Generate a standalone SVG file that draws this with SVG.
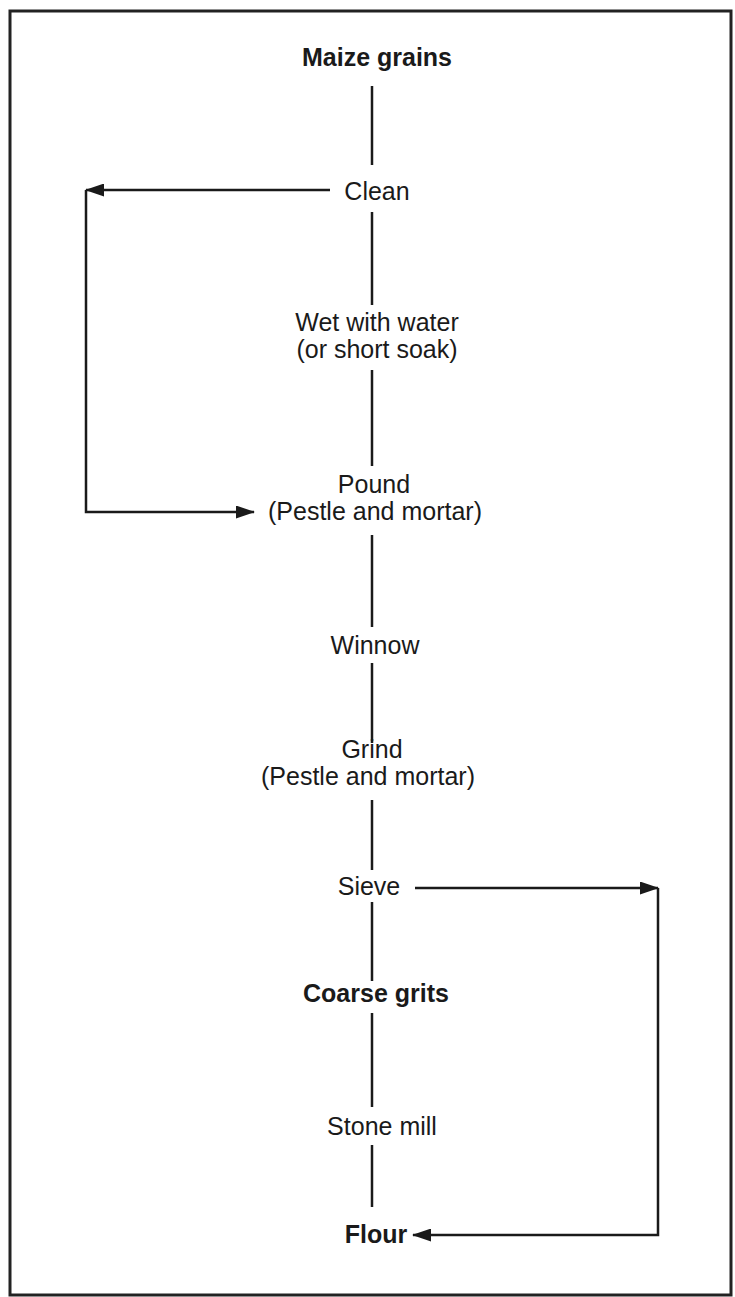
<svg xmlns="http://www.w3.org/2000/svg" width="735" height="1297" viewBox="0 0 735 1297">
<style>
.t{font-family:"Liberation Sans",Arial,sans-serif;font-size:25px;fill:#1a1a1a;text-anchor:middle}
.b{font-weight:bold}
.ln{stroke:#1a1a1a;stroke-width:2.5;fill:none}
</style>
<defs>
<marker id="ah" markerWidth="19" markerHeight="13" refX="18" refY="6.5" orient="auto" markerUnits="userSpaceOnUse">
<path d="M0,0 L19,6.5 L0,13 Z" fill="#1a1a1a"/>
</marker>
</defs>
<rect x="0" y="0" width="735" height="1297" fill="#fff"/>
<rect x="10" y="11" width="721" height="1284" fill="none" stroke="#222" stroke-width="3"/>
<g id="connectors" class="ln">
<line x1="372" y1="86" x2="372" y2="165"/>
<line x1="372" y1="212" x2="372" y2="305"/>
<line x1="372" y1="370" x2="372" y2="466"/>
<line x1="372" y1="535" x2="372" y2="627"/>
<line x1="372" y1="663" x2="372" y2="743"/>
<line x1="372" y1="800" x2="372" y2="870"/>
<line x1="372" y1="902" x2="372" y2="981"/>
<line x1="372" y1="1013" x2="372" y2="1107"/>
<line x1="372" y1="1145" x2="372" y2="1207"/>
<polyline points="330,190 86,190" marker-end="url(#ah)"/>
<polyline points="86,190 86,512 254,512" marker-end="url(#ah)"/>
<polyline points="415,888 658,888" marker-end="url(#ah)"/>
<polyline points="658,888 658,1235 413,1235" marker-end="url(#ah)"/>
</g>
<g id="maize"><text class="t b" x="377" y="66">Maize grains</text></g>
<g id="clean"><text class="t" x="377" y="200">Clean</text></g>
<g id="wet"><text class="t" x="377" y="331">Wet with water</text><text class="t" x="377" y="358">(or short soak)</text></g>
<g id="pound"><text class="t" x="374" y="493">Pound</text><text class="t" x="375" y="520">(Pestle and mortar)</text></g>
<g id="winnow"><text class="t" x="375" y="654">Winnow</text></g>
<g id="grind"><text class="t" x="372" y="758">Grind</text><text class="t" x="368" y="785">(Pestle and mortar)</text></g>
<g id="sieve"><text class="t" x="369" y="895">Sieve</text></g>
<g id="coarse"><text class="t b" x="376" y="1002">Coarse grits</text></g>
<g id="stone"><text class="t" x="382" y="1135">Stone mill</text></g>
<g id="flour"><text class="t b" x="376" y="1243">Flour</text></g>
</svg>
